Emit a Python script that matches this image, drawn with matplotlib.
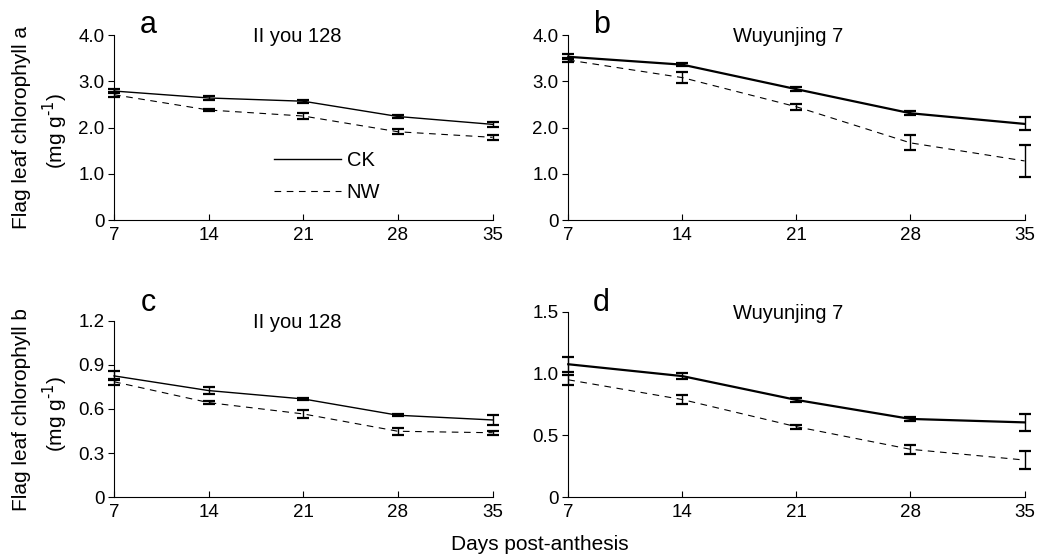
import matplotlib
matplotlib.use("Agg")
import matplotlib.pyplot as plt

plt.rcParams["font.family"] = ["Liberation Sans", "DejaVu Sans"]
plt.rcParams["font.size"] = 14

DAYS = [7, 14, 21, 28, 35]

# panel a: Il you 128, chlorophyll a
A_CK = [2.79, 2.64, 2.57, 2.24, 2.07]
A_CK_ERR = [0.05, 0.04, 0.03, 0.04, 0.06]
A_NW = [2.71, 2.38, 2.25, 1.91, 1.79]
A_NW_ERR = [0.05, 0.03, 0.07, 0.05, 0.05]

# panel b: Wuyunjing 7, chlorophyll a
B_CK = [3.53, 3.36, 2.83, 2.31, 2.08]
B_CK_ERR = [0.05, 0.03, 0.05, 0.04, 0.14]
B_NW = [3.46, 3.08, 2.45, 1.67, 1.28]
B_NW_ERR = [0.05, 0.12, 0.07, 0.16, 0.35]

# panel c: Il you 128, chlorophyll b
C_CK = [0.825, 0.725, 0.668, 0.557, 0.525]
C_CK_ERR = [0.03, 0.025, 0.008, 0.008, 0.035]
C_NW = [0.785, 0.643, 0.566, 0.448, 0.438]
C_NW_ERR = [0.02, 0.008, 0.025, 0.025, 0.015]

# panel d: Wuyunjing 7, chlorophyll b
D_CK = [1.076, 0.98, 0.787, 0.633, 0.605]
D_CK_ERR = [0.06, 0.025, 0.018, 0.018, 0.07]
D_NW = [0.95, 0.79, 0.57, 0.387, 0.30]
D_NW_ERR = [0.04, 0.04, 0.015, 0.035, 0.075]

fig = plt.figure(figsize=(10.37, 5.56), dpi=100)

panels = [
    # letter, title, ck, ck_err, nw, nw_err, rect, ytop, yticks, labels, lw, letter pos, title x
    ("a", "II you 128", A_CK, A_CK_ERR, A_NW, A_NW_ERR,
     [0.110, 0.604, 0.365, 0.333], 4.0, [0, 1, 2, 3, 4],
     ["0", "1.0", "2.0", "3.0", "4.0"], 1.0, (0.143, 0.955), 0.485),
    ("b", "Wuyunjing 7", B_CK, B_CK_ERR, B_NW, B_NW_ERR,
     [0.548, 0.604, 0.440, 0.333], 4.0, [0, 1, 2, 3, 4],
     ["0", "1.0", "2.0", "3.0", "4.0"], 1.6, (0.580, 0.955), 0.482),
    ("c", "II you 128", C_CK, C_CK_ERR, C_NW, C_NW_ERR,
     [0.110, 0.106, 0.365, 0.317], 1.2, [0, 0.3, 0.6, 0.9, 1.2],
     ["0", "0.3", "0.6", "0.9", "1.2"], 1.0, (0.143, 0.455), 0.485),
    ("d", "Wuyunjing 7", D_CK, D_CK_ERR, D_NW, D_NW_ERR,
     [0.548, 0.106, 0.440, 0.333], 1.5, [0, 0.5, 1.0, 1.5],
     ["0", "0.5", "1.0", "1.5"], 1.6, (0.580, 0.455), 0.482),
]

axes = {}
for letter, title, ck, ck_err, nw, nw_err, rect, ytop, yt, ytl, lw, lpos, tx in panels:
    ax = fig.add_axes(rect)
    axes[letter] = ax
    ax.plot(DAYS, ck, color="black", lw=lw, label="CK", clip_on=False)
    ax.plot(DAYS, nw, color="black", lw=0.8, ls=(0, (6, 5)), label="NW", clip_on=False)
    for vals, errs in [(ck, ck_err), (nw, nw_err)]:
        ax.errorbar(DAYS, vals, yerr=errs, fmt="none", ecolor="black",
                    elinewidth=1.0, capsize=4.5, capthick=1.6, clip_on=False)
    ax.set_xlim(7, 35)
    ax.set_ylim(0, ytop)
    ax.set_xticks(DAYS)
    ax.set_yticks(yt)
    ax.set_yticklabels(ytl)
    ax.spines["top"].set_visible(False)
    ax.spines["right"].set_visible(False)
    ax.spines["left"].set_linewidth(0.8)
    ax.spines["bottom"].set_linewidth(0.8)
    ax.tick_params(axis="x", direction="in", length=4, width=0.8, pad=5, labelsize=13.5)
    ax.tick_params(axis="y", direction="out", length=4, width=0.8, pad=3, labelsize=13.5)
    ax.text(tx, 0.99, title, transform=ax.transAxes, ha="center", va="center",
            fontsize=14.5)
    fig.text(lpos[0], lpos[1], letter, ha="center", va="center", fontsize=22)

leg = axes["a"].legend(loc="lower left", bbox_to_anchor=(0.375, 0.0), frameon=False,
                       handlelength=3.3, handletextpad=0.3, labelspacing=0.65,
                       fontsize=14.5)

unit = "(mg g$^{\\text{-}1}$)"
fig.text(0.021, 0.77, "Flag leaf chlorophyll a", rotation=90, ha="center",
         va="center", fontsize=15)
fig.text(0.053, 0.765, unit, rotation=90, ha="center", va="center", fontsize=15)
fig.text(0.021, 0.263, "Flag leaf chlorophyll b", rotation=90, ha="center",
         va="center", fontsize=15)
fig.text(0.053, 0.255, unit, rotation=90, ha="center", va="center", fontsize=15)
fig.text(0.521, 0.02, "Days post-anthesis", ha="center", va="center", fontsize=15)

fig.savefig("out.png", dpi=100)
